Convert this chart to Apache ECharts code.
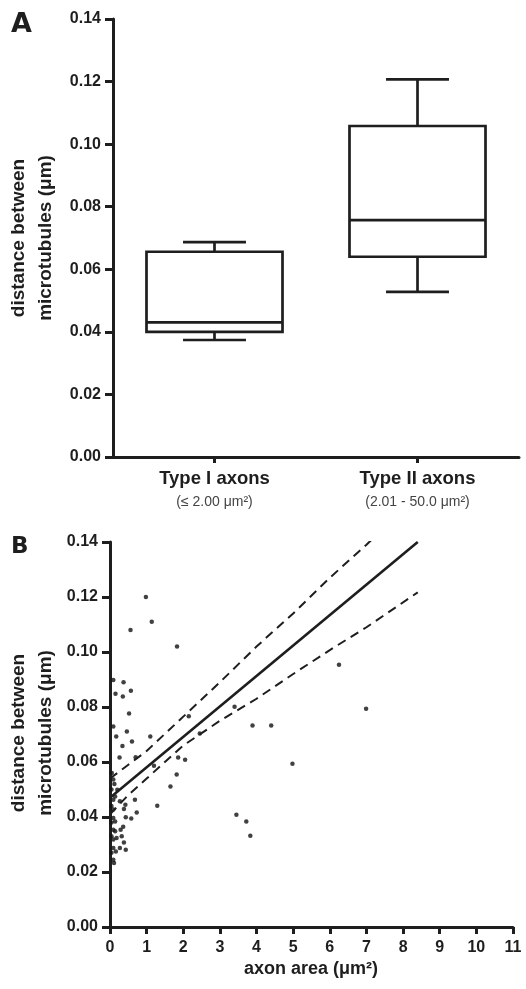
<!DOCTYPE html>
<html>
<head>
<meta charset="utf-8">
<script src="https://cdn.jsdelivr.net/npm/echarts@6/dist/echarts.min.js"></script>
<style>html,body{margin:0;padding:0;background:#fff}#c{width:526px;height:989px}</style>
</head>
<body>
<div id="c"></div>
<script>
// ---- Panel A data ----
var categories = ['Type I axons', 'Type II axons'];
var subLabels = ['(\u2264 2.00 \u03bcm\u00b2)', '(2.01 - 50.0 \u03bcm\u00b2)'];
var boxMin = [0.0374, 0.0528];
var boxQ1 = [0.0400, 0.0640];
var boxMedian = [0.0430, 0.0757];
var boxQ3 = [0.0656, 0.1058];
var boxMax = [0.0687, 0.1207];

// ---- Panel B data ----
var scatterX = [0.98,1.14,0.56,1.83,6.25,6.99,3.40,3.89,4.40,4.98,3.45,3.72,3.83,
  1.10,1.20,1.82,1.65,1.29,2.05,1.86,2.15,2.45,0.70,
  0.09,0.37,0.15,0.35,0.57,0.52,0.09,0.17,0.46,0.34,0.60,0.26,
  0.09,0.14,0.20,0.27,0.42,0.68,0.38,0.73,0.58,0.43,0.09,0.09,0.14,0.09,0.36,0.29,0.14,0.18,0.09,0.32,0.38,0.27,0.43,0.16,0.09,0.09,0.11,0.09,
  0.05,0.12,0.04,0.04,0.04,0.04,0.04];
var scatterY = [0.120,0.111,0.108,0.102,0.0954,0.0794,0.0801,0.0733,0.0733,0.0594,0.0408,0.0384,0.0332,
  0.0693,0.0586,0.0555,0.0511,0.0441,0.0608,0.0616,0.0766,0.0704,0.0617,
  0.0898,0.0890,0.0848,0.0838,0.0859,0.0776,0.0729,0.0693,0.0711,0.0658,0.0675,0.0616,
  0.0536,0.0475,0.0499,0.0457,0.0445,0.0463,0.0429,0.0416,0.0395,0.0399,0.0427,0.0463,0.0384,0.0396,0.0365,0.0354,0.0348,0.0324,0.0318,0.0330,0.0307,0.0287,0.0281,0.0275,0.0287,0.0245,0.0233,0.0354,
  0.0560,0.0520,0.0500,0.0440,0.0380,0.0330,0.0270];
var regX = [0, 8.4];
var regY = [0.047, 0.140];
var bandX = [0, 0.5, 1, 2, 3, 4, 5, 6, 7, 8.4];
var upperY = [0.054, 0.059, 0.064, 0.0765, 0.089, 0.102, 0.114, 0.127, 0.139, 0.157];
var lowerY = [0.041, 0.048, 0.054, 0.066, 0.075, 0.083, 0.092, 0.1007, 0.109, 0.1217];
var xTicksB = [0, 11, 1];
var yTicks = [0, 0.14, 0.02];

var INK = '#1e1e1e';
var FONT = '"Liberation Sans", Arial, sans-serif';

var boxData = categories.map(function (c, i) {
  return [i, boxMin[i], boxQ1[i], boxMedian[i], boxQ3[i], boxMax[i]];
});
function zip(a, b) { return a.map(function (v, i) { return [v, b[i]]; }); }

var yAxisCommon = {
  type: 'value', min: yTicks[0], max: yTicks[1], interval: yTicks[2],
  axisLine: { show: true, lineStyle: { color: INK, width: 3 } },
  axisTick: { show: true, length: 8, lineStyle: { color: INK, width: 3 } },
  splitLine: { show: false },
  axisLabel: { color: INK, fontFamily: FONT, fontWeight: 'bold', fontSize: 16, margin: 12,
    formatter: function (v) { return v.toFixed(2); } }
};

var chart = echarts.init(document.getElementById('c'), null, { renderer: 'canvas' });
chart.setOption({
  animation: false,
  backgroundColor: '#fff',
  grid: [
    { left: 113, right: 7, top: 19, height: 438 },
    { left: 110, right: 13, top: 542, height: 385 }
  ],
  xAxis: [
    {
      gridIndex: 0, type: 'category', data: categories,
      axisLine: { show: true, lineStyle: { color: INK, width: 3 } },
      axisTick: { show: true, alignWithLabel: true, length: 6, lineStyle: { color: INK, width: 3 } },
      axisLabel: {
        margin: 10, interval: 0,
        formatter: function (v, i) { return '{a|' + v + '}\n{b|' + subLabels[i] + '}'; },
        rich: {
          a: { fontFamily: FONT, fontWeight: 'bold', fontSize: 18.5, color: INK, lineHeight: 24 },
          b: { fontFamily: FONT, fontSize: 14, color: '#444', lineHeight: 22 }
        }
      }
    },
    {
      gridIndex: 1, type: 'value', min: xTicksB[0], max: xTicksB[1], interval: xTicksB[2],
      axisLine: { show: true, lineStyle: { color: INK, width: 3 } },
      axisTick: { show: true, length: 7, lineStyle: { color: INK, width: 3 } },
      splitLine: { show: false },
      axisLabel: { color: INK, fontFamily: FONT, fontWeight: 'bold', fontSize: 16, margin: 13 }
    }
  ],
  yAxis: [
    Object.assign({ gridIndex: 0 }, yAxisCommon),
    Object.assign({ gridIndex: 1 }, yAxisCommon)
  ],
  graphic: [
    { type: 'text', left: 11, top: 11, style: { text: 'A', font: '900 27px "DejaVu Sans", sans-serif', fill: INK } },
    { type: 'text', left: 11, top: 536, style: { text: 'B', font: '900 23px "DejaVu Sans", sans-serif', fill: INK } },
    { type: 'text', x: 32, y: 238, rotation: Math.PI / 2,
      style: { text: 'distance between\nmicrotubules (\u03bcm)', font: 'bold 19px ' + FONT, fill: INK,
        align: 'center', verticalAlign: 'middle', lineHeight: 27 } },
    { type: 'text', x: 32, y: 733, rotation: Math.PI / 2,
      style: { text: 'distance between\nmicrotubules (\u03bcm)', font: 'bold 19px ' + FONT, fill: INK,
        align: 'center', verticalAlign: 'middle', lineHeight: 27 } },
    { type: 'text', x: 311, y: 969,
      style: { text: 'axon area (\u03bcm\u00b2)', font: 'bold 18px ' + FONT, fill: INK,
        align: 'center', verticalAlign: 'middle' } }
  ],
  series: [
    {
      type: 'custom', xAxisIndex: 0, yAxisIndex: 0, data: boxData,
      encode: { x: 0, y: [1, 2, 3, 4, 5] },
      renderItem: function (params, api) {
        var i = api.value(0);
        var lo = api.coord([i, api.value(1)]);
        var q1 = api.coord([i, api.value(2)]);
        var md = api.coord([i, api.value(3)]);
        var q3 = api.coord([i, api.value(4)]);
        var hi = api.coord([i, api.value(5)]);
        var band = api.size([1, 0])[0];
        var bw = band * 0.67, cw = band * 0.31;
        var cx = lo[0];
        var st = { stroke: INK, lineWidth: 2.7, fill: null };
        return {
          type: 'group',
          children: [
            { type: 'rect', shape: { x: cx - bw / 2, y: q3[1], width: bw, height: q1[1] - q3[1] }, style: st },
            { type: 'line', shape: { x1: cx - bw / 2, y1: md[1], x2: cx + bw / 2, y2: md[1] }, style: st },
            { type: 'line', shape: { x1: cx, y1: q3[1], x2: cx, y2: hi[1] }, style: st },
            { type: 'line', shape: { x1: cx, y1: q1[1], x2: cx, y2: lo[1] }, style: st },
            { type: 'line', shape: { x1: cx - cw / 2, y1: hi[1], x2: cx + cw / 2, y2: hi[1] }, style: st },
            { type: 'line', shape: { x1: cx - cw / 2, y1: lo[1], x2: cx + cw / 2, y2: lo[1] }, style: st }
          ]
        };
      }
    },
    {
      type: 'scatter', xAxisIndex: 1, yAxisIndex: 1, data: zip(scatterX, scatterY),
      symbol: 'circle', symbolSize: 4.5, itemStyle: { color: '#111' }, z: 3
    },
    {
      type: 'line', xAxisIndex: 1, yAxisIndex: 1, data: zip(regX, regY),
      showSymbol: false, clip: true, lineStyle: { color: INK, width: 2.6 }, z: 4
    },
    {
      type: 'line', xAxisIndex: 1, yAxisIndex: 1, data: zip(bandX, upperY),
      showSymbol: false, clip: true, lineStyle: { color: INK, width: 2, type: [9, 6] }, z: 4
    },
    {
      type: 'line', xAxisIndex: 1, yAxisIndex: 1, data: zip(bandX, lowerY),
      showSymbol: false, clip: true, lineStyle: { color: INK, width: 2, type: [9, 6] }, z: 4
    }
  ]
});
</script>
</body>
</html>
